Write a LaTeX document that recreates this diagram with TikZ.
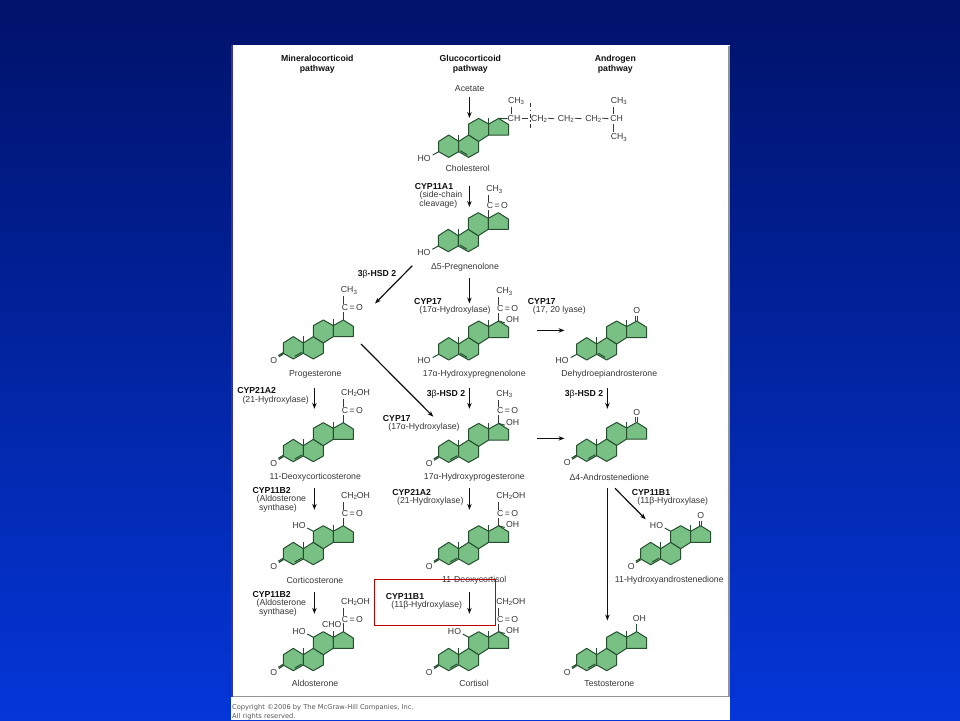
\documentclass[tikz,border=0pt]{standalone}
\usepackage{fontspec}
\setmainfont{Liberation Sans}
\newfontfamily\copyfont{DejaVu Sans}
\usetikzlibrary{arrows.meta}
\definecolor{ringfill}{HTML}{78C084}
\definecolor{ringline}{HTML}{264F30}
\definecolor{txt}{HTML}{383838}
\definecolor{boldtxt}{HTML}{101010}
\definecolor{bgtop}{HTML}{00126A}
\definecolor{bgbot}{HTML}{0436D8}
\tikzset{
  lab/.style={inner sep=0pt,outer sep=0pt,text=txt,font=\fontsize{8.7}{10}\selectfont},
  enz/.style={lab,text=boldtxt,font=\fontsize{8.7}{10}\selectfont\bfseries},
  ring/.style={fill=ringfill,draw=ringline,line width=1pt,line join=round},
  bond/.style={draw=ringline,line width=1pt},
  cbond/.style={draw=txt,line width=0.8pt},
  flow/.style={draw=boldtxt,line width=1.2pt,-{Stealth[length=6pt,width=4.5pt]}},
}
\newcommand{\sbc}[1]{\raisebox{-0.3ex}{\fontsize{6}{6}\selectfont #1}}
\newcommand{\lbl}[4]{\node[lab] (#1) at (#2,#3) {#4};}
\newcommand{\enzy}[4]{\node[enz] (#1) at (#2,#3) {#4};}
\newcommand{\flowarrow}[5]{\coordinate (#1-s) at (#2,#3); \coordinate (#1-e) at (#4,#5); \draw[flow] (#1-s) -- (#1-e);}
% #1 id, #2 x, #3 y, #4 bond type (4 or 5), #5 extras
\newcommand{\steroid}[5]{%
  \begin{scope}[shift={(#2,#3)}]
    \def\id{#1}
    \filldraw[ring] (-20,-10.3) -- (-10,-16.7) -- (0,-10.3) -- (0,0) -- (-10,5.7) -- (-20,0) -- cycle;
    \filldraw[ring] (0,-10.3) -- (10,-16.7) -- (20,-10.3) -- (20,0) -- (10,5.7) -- (0,0) -- cycle;
    \filldraw[ring] (10,-27.7) -- (20,-33.3) -- (30,-27.7) -- (30,-16.7) -- (20,-10.3) -- (10,-16.7) -- cycle;
    \filldraw[ring] (30,-27.7) -- (40,-33.3) -- (50,-27) -- (50,-16.7) -- (30,-16.7) -- cycle;
    \draw[bond] (0,-10.3) -- (0,-17);
    \draw[bond] (30,-27.7) -- (30,-34);
    \ifnum#4=4
      \draw[bond] (-8.5,3) -- (-1.5,-1);
      \draw[bond] (-20,-0.8) -- (-25,2.2) (-20,0.8) -- (-24.5,3.6);
      \node[lab] (#1-o) at (-29.5,7.2) {O};
    \else
      \draw[bond] (1.5,-1) -- (8.5,3);
      \draw[bond] (-20,0) -- (-26,3.3);
      \node[lab] (#1-ho) at (-34.5,6.5) {HO};
    \fi
    #5
  \end{scope}}
\newcommand{\acetyl}{%
  \draw[cbond] (40,-33.3) -- (40,-41.5) (40,-49.5) -- (40,-57);
  \node[lab] (\id-co) at (49,-45.8) {C\,=\,O};
  \node[lab] (\id-me) at (45.6,-62.8) {CH\sbc{3}};}
\newcommand{\hydroxyacetyl}{%
  \draw[cbond] (40,-33.3) -- (40,-41.5) (40,-49.5) -- (40,-57);
  \node[lab] (\id-co) at (49,-45.8) {C\,=\,O};
  \node[lab] (\id-ch) at (52.2,-63.2) {CH\sbc{2}OH};}
\newcommand{\hydroxyl}{%
  \draw[bond] (40,-33.3) -- (46,-31.5);
  \node[lab] (\id-oh) at (54,-34.6) {OH};}
\newcommand{\keto}{%
  \draw[bond] (39.2,-33.3) -- (39.2,-38.5) (40.8,-33.3) -- (40.8,-38.5);
  \node[lab] (\id-ko) at (40,-43.4) {O};}
\newcommand{\cleven}{%
  \draw[bond] (10,-27.7) -- (4,-31);
  \node[lab] (\id-hoc) at (-4.2,-34) {HO};}
\begin{document}
\begin{tikzpicture}[x=1pt,y=-1pt]
\useasboundingbox (0,0) rectangle (960,720);
\shade[top color=bgtop, bottom color=bgbot] (0,0) rectangle (960,720);
\fill[white] (231,45) rectangle (730,720);
\draw[draw=black!42,line width=1.2pt] (233,696.8) -- (729,696.8) -- (729,45.5);
\draw[draw=blue!55!black!80,line width=2pt] (232,45) -- (232,697.4);

% headers
\node[enz,align=center,font=\fontsize{8.7}{9.7}\selectfont\bfseries] (h1) at (317.3,64.5) {Mineralocorticoid\\pathway};
\node[enz,align=center,font=\fontsize{8.7}{9.7}\selectfont\bfseries] (h2) at (470.3,64.5) {Glucocorticoid\\pathway};
\node[enz,align=center,font=\fontsize{8.7}{9.7}\selectfont\bfseries] (h3) at (615.3,64.5) {Androgen\\pathway};

% cholesterol
\lbl{acetate}{469.7}{89}{Acetate}
\flowarrow{f1}{469.4}{96.7}{469.4}{118}
\steroid{chol}{458.7}{151.7}{5}{}
\lbl{cholname}{467.7}{168.7}{Cholesterol}
\lbl{s-me1}{516}{101.3}{CH\sbc{3}}
\lbl{s-ch1}{514}{118.7}{CH}
\lbl{s-ch2}{539}{118.7}{CH\sbc{2}}
\lbl{s-ch3}{565.7}{118.7}{CH\sbc{2}}
\lbl{s-ch4}{593.3}{118.7}{CH\sbc{2}}
\lbl{s-ch5}{616.7}{118.7}{CH}
\lbl{s-me2}{618.7}{101.3}{CH\sbc{3}}
\lbl{s-me3}{618.7}{137.3}{CH\sbc{3}}
\draw[bond] (498.7,118.4) -- (s-ch1.west);
\draw[cbond] (511,106.7) -- (511,114);
\draw[cbond] (s-ch1.east) ++(2,0) -- (528,118.7);
\draw[cbond] (s-ch2.east) ++(1,-0.5) -- (554,118.7);
\draw[cbond] (s-ch3.east) ++(1,-0.5) -- (581.5,118.7);
\draw[cbond] (s-ch4.east) ++(1,-0.5) -- (608.5,118.7);
\draw[cbond] (613.3,107) -- (613.3,114) (613.3,124) -- (613.3,131.5);
\coordinate (cut-a) at (530,103.3); \coordinate (cut-b) at (530,129.3);
\draw[draw=txt,line width=0.8pt,dash pattern=on 4pt off 2.5pt on 1.5pt off 2.5pt] (cut-a) -- (cut-b);

% pregnenolone
\enzy{e1}{434}{186.7}{CYP11A1}
\lbl{e1a}{441}{195.7}{(side-chain}
\lbl{e1b}{438.3}{204.7}{cleavage)}
\flowarrow{f2}{469.4}{185.7}{469.4}{207}
\steroid{preg}{458.3}{246}{5}{%
  \draw[cbond] (30,-27.7) -- (30,-36) (30,-44.5) -- (30,-51);
  \node[lab] (preg-co) at (39,-40.3) {C\,=\,O};
  \node[lab] (preg-me) at (36,-56.4) {CH\sbc{3}};}
\lbl{pregname}{465}{267}{Δ5-Pregnenolone}
\enzy{e2}{377}{274}{3{\mdseries β}-HSD 2}
\flowarrow{f3}{412.3}{265.7}{375}{303.5}
\flowarrow{f4}{469.4}{278.3}{469.4}{303.5}

% progesterone
\steroid{prog}{303.3}{353.3}{4}{\acetyl}
\lbl{progname}{315.3}{374.3}{Progesterone}
\flowarrow{f5}{361}{344}{433.3}{416.7}

% 17-OH pregnenolone
\enzy{e3}{428}{301.3}{CYP17}
\lbl{e3a}{455}{310.3}{(17α-Hydroxylase)}
\steroid{ohp}{458.7}{354.3}{5}{\acetyl\hydroxyl}
\lbl{ohpname}{474.3}{374.3}{17α-Hydroxypregnenolone}
\enzy{e4}{541.7}{301.3}{CYP17}
\lbl{e4a}{559.3}{310.3}{(17, 20 lyase)}
\flowarrow{f6}{536.7}{330.4}{564.5}{330.4}

% DHEA
\steroid{dhea}{596.7}{354.3}{5}{\keto}
\lbl{dheaname}{609.3}{374.3}{Dehydroepiandrosterone}

% row 2
\enzy{e5}{256.7}{390.7}{CYP21A2}
\lbl{e5a}{275.7}{400}{(21-Hydroxylase)}
\flowarrow{f7}{314.4}{387.7}{314.4}{408.8}
\steroid{doc}{303.3}{456}{4}{\hydroxyacetyl}
\lbl{docname}{315.3}{477}{11-Deoxycorticosterone}

\enzy{e6}{446}{394}{3{\mdseries β}-HSD 2}
\flowarrow{f8}{469.4}{388.3}{469.4}{408.8}
\enzy{e7}{396.7}{418.3}{CYP17}
\lbl{e7a}{424}{427.7}{(17α-Hydroxylase)}
\steroid{ohprog}{458.7}{456.7}{4}{\acetyl\hydroxyl}
\lbl{ohprogname}{474.3}{477}{17α-Hydroxyprogesterone}
\flowarrow{f9}{536.7}{438.4}{564.5}{438.4}

\enzy{e8}{584}{394}{3{\mdseries β}-HSD 2}
\flowarrow{f10}{607.4}{388.3}{607.4}{408.8}
\steroid{andro}{596.7}{455.7}{4}{\keto}
\lbl{androname}{609.3}{477}{Δ4-Androstenedione}

% row 3
\enzy{e9}{271.7}{490.3}{CYP11B2}
\lbl{e9a}{281.3}{499.3}{(Aldosterone}
\lbl{e9b}{278}{508}{synthase)}
\flowarrow{f11}{314.4}{488.3}{314.4}{509.8}
\steroid{cort}{303.3}{559}{4}{\hydroxyacetyl\cleven}
\lbl{cortname}{315}{580}{Corticosterone}

\enzy{e10}{411.7}{492.7}{CYP21A2}
\lbl{e10a}{430.3}{501.7}{(21-Hydroxylase)}
\flowarrow{f12}{469.4}{488.3}{469.4}{509.8}
\steroid{dc}{458.7}{559}{4}{\hydroxyacetyl\hydroxyl}
\lbl{dcname}{474.3}{580}{11-Deoxycortisol}

\flowarrow{f13}{607.4}{488.3}{607.4}{620.5}
\flowarrow{f14}{615}{488.3}{645.7}{519.3}
\enzy{e11}{651}{492.7}{CYP11B1}
\lbl{e11a}{672.7}{501.7}{(11β-Hydroxylase)}
\steroid{oha}{660.7}{559}{4}{\keto\cleven}
\lbl{ohaname}{669.3}{580}{11-Hydroxyandrostenedione}

% row 4
\enzy{e12}{271.7}{594.3}{CYP11B2}
\lbl{e12a}{281.3}{603.3}{(Aldosterone}
\lbl{e12b}{278}{612}{synthase)}
\flowarrow{f15}{314.4}{592.3}{314.4}{613.8}
\steroid{aldo}{303.3}{665}{4}{\hydroxyacetyl\cleven
  \draw[cbond] (40,-33.3) -- (40,-42.5);
  \node[lab] (aldo-cho) at (28.4,-40.7) {CHO};}
\lbl{aldoname}{315}{683.7}{Aldosterone}

\enzy{e13}{405}{596.7}{CYP11B1}
\lbl{e13a}{426.7}{605.7}{(11β-Hydroxylase)}
\flowarrow{f16}{469.4}{592.3}{469.4}{613.8}
\steroid{cortisol}{458.7}{665}{4}{\hydroxyacetyl\hydroxyl\cleven}
\lbl{cortisolname}{474}{683.7}{Cortisol}

\steroid{testo}{596.7}{665}{4}{%
  \draw[bond] (40,-33.3) -- (40,-41);
  \node[lab] (testo-oh) at (42.6,-47) {OH};}
\lbl{testoname}{609.3}{683.7}{Testosterone}

% highlight
\node[draw=red!75!black,line width=1pt,inner sep=0pt,minimum width=121.4pt,minimum height=46pt] (hl) at (435,602.3) {};

% copyright
\node[inner sep=0pt,anchor=west,text=black!65,font=\fontsize{6.7}{7}\copyfont] (c1) at (232,708) {Copyright ©2006 by The McGraw-Hill Companies, Inc.};
\node[inner sep=0pt,anchor=west,text=black!65,font=\fontsize{6.7}{7}\copyfont] (c2) at (232,716.5) {All rights reserved.};
\end{tikzpicture}
\end{document}
